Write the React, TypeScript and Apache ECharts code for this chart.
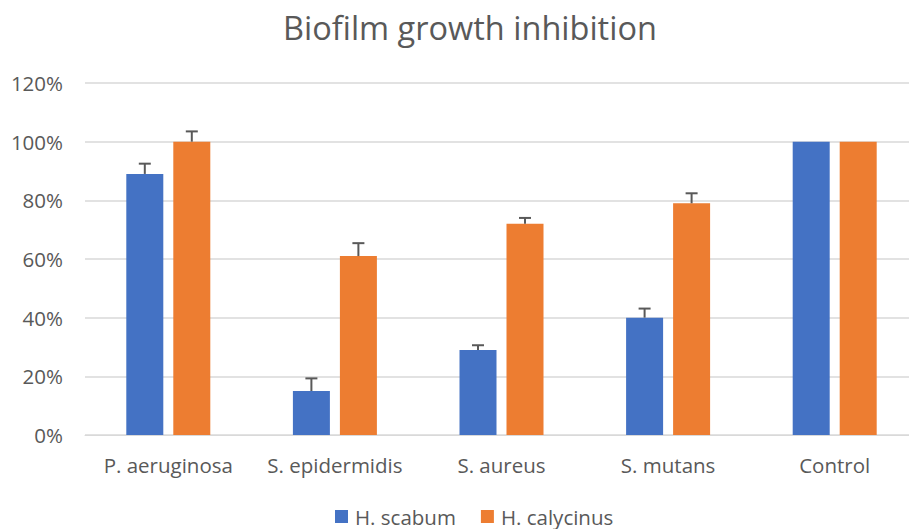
import React, { useEffect, useRef } from "react";
import * as echarts from "echarts";

const categories = ["P. aeruginosa", "S. epidermidis", "S. aureus", "S. mutans", "Control"];
const seriesNames = ["H. scabum", "H. calycinus"];
const scabum = [89, 15, 29, 40, 100];
const calycinus = [100, 61, 72, 79, 100];
const scabumErr = [3.5, 4.3, 1.6, 3.1, 0];
const calycinusErr = [3.5, 4.4, 2, 3.4, 0];
const yTicks = [0, 20, 40, 60, 80, 100, 120];

const BLUE = "#4472C4";
const ORANGE = "#ED7D31";
const TEXT = "#595959";
const FONT = "'Open Sans', 'Noto Sans', sans-serif";
const BAR_W = 37;
const BAR_GAP = 10;

function errorSeries(values: number[], errs: number[], offset: number) {
  return {
    type: "custom",
    silent: true,
    z: 10,
    data: values.map((v, i) => [i, v, errs[i]]),
    renderItem: (params: any, api: any) => {
      const idx = api.value(0);
      const v = api.value(1);
      const e = api.value(2);
      if (!e) return null;
      const base = api.coord([idx, v]);
      const top = api.coord([idx, v + e]);
      const x = base[0] + offset;
      const style = { stroke: "#595959", lineWidth: 2 };
      return {
        type: "group",
        children: [
          { type: "line", shape: { x1: x, y1: base[1], x2: x, y2: top[1] }, style },
          { type: "line", shape: { x1: x - 6, y1: top[1], x2: x + 6, y2: top[1] }, style },
        ],
      };
    },
  };
}

export default function App() {
  const ref = useRef<HTMLDivElement>(null);
  useEffect(() => {
    if (!ref.current) return;
    const chart = echarts.init(ref.current, undefined, { renderer: "svg" });
    const half = (BAR_W + BAR_GAP) / 2;
    chart.setOption({
      animation: false,
      backgroundColor: "#ffffff",
      title: {
        text: "Biofilm growth inhibition",
        left: 278,
        top: 6,
        textStyle: { color: TEXT, fontSize: 32.5, fontWeight: "normal", fontFamily: FONT },
      },
      legend: {
        bottom: -3,
        left: 330,
        itemWidth: 13,
        itemHeight: 13,
        itemGap: 25,
        icon: "rect",
        data: seriesNames,
        textStyle: { color: TEXT, fontSize: 20.5, fontFamily: FONT, padding: [0, 0, 0, 2] },
      },
      grid: { left: 85, width: 833, top: 83, bottom: 94, outerBoundsMode: "none", containLabel: false },
      xAxis: {
        type: "category",
        data: categories,
        axisLine: { lineStyle: { color: "#d9d9d9", width: 1 } },
        axisTick: { show: false },
        axisLabel: { color: TEXT, fontSize: 20.5, fontFamily: FONT, margin: 19, interval: 0 },
      },
      yAxis: {
        type: "value",
        min: 0,
        max: 120,
        interval: 20,
        axisLine: { show: false },
        axisTick: { show: false },
        splitLine: { lineStyle: { color: "#d9d9d9", width: 1.5 } },
        axisLabel: {
          color: TEXT,
          fontSize: 20.5,
          fontFamily: FONT,
          margin: 22,
          formatter: (v: number) => (yTicks.includes(v) ? v + "%" : ""),
        },
      },
      series: [
        {
          name: seriesNames[0],
          type: "bar",
          data: scabum,
          barWidth: BAR_W,
          barGap: (BAR_GAP / BAR_W) * 100 + "%",
          itemStyle: { color: BLUE },
        },
        {
          name: seriesNames[1],
          type: "bar",
          data: calycinus,
          barWidth: BAR_W,
          itemStyle: { color: ORANGE },
        },
        errorSeries(scabum, scabumErr, -half),
        errorSeries(calycinus, calycinusErr, half),
      ],
    });
    return () => chart.dispose();
  }, []);
  return (
    <div
      ref={ref}
      style={{ position: "absolute", left: 0, top: 0, width: 909, height: 529 }}
    />
  );
}
